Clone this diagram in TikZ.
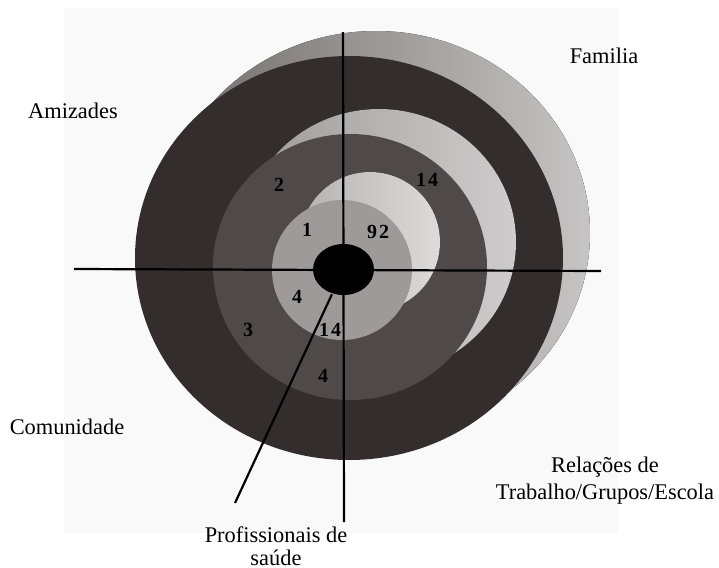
\documentclass[tikz,border=0pt]{standalone}
\usepackage{fontspec}
\setmainfont{Liberation Serif}
\newfontfamily\digitos[LetterSpace=10]{Liberation Serif}
\usetikzlibrary{shapes.geometric}

\definecolor{fundo}{RGB}{249,249,249}
\definecolor{anelescuro}{RGB}{52,45,45}
\definecolor{anelmedio}{RGB}{79,73,73}
\definecolor{anelclaro}{RGB}{158,154,154}
\definecolor{ladoAesq}{RGB}{112,107,107}
\definecolor{ladoAdir}{RGB}{198,196,196}
\definecolor{ladoBesq}{RGB}{158,154,154}
\definecolor{ladoBdir}{RGB}{206,204,204}
\definecolor{ladoCesq}{RGB}{182,178,178}
\definecolor{ladoCdir}{RGB}{220,218,218}

\tikzset{every picture/.style={line width=1.1pt}}
\tikzset{rotulo/.style={font=\fontsize{11.2}{11.5}\selectfont,inner sep=0pt,align=center},
	numero/.style={font=\digitos\fontsize{10}{12}\selectfont\bfseries,inner sep=0pt}}

\begin{document}
\begin{tikzpicture}[x=0.5pt,y=-0.5pt]
			\useasboundingbox (0,0) rectangle (719,568);
			\fill [fundo] (64,8) rectangle (618,533);

			\fill [left color=ladoAesq,right color=ladoAdir] (376,233) ellipse [x radius=214,y radius=202];
			\fill [anelescuro] (349,258) ellipse [x radius=214,y radius=202];
			\fill [left color=ladoBesq,right color=ladoBdir] (379,242) ellipse [x radius=137,y radius=133];
			\fill [anelmedio] (350,267) ellipse [x radius=137,y radius=133];
			\fill [left color=ladoCesq,right color=ladoCdir] (370,242) ellipse [x radius=70,y radius=70];
			\fill [anelclaro] (342,270) ellipse [x radius=70,y radius=70];

			\coordinate (esq) at (74,269);
			\coordinate (dir) at (601,271);
			\coordinate (topo) at (343,32);
			\coordinate (base) at (344,522);
			\coordinate (ponta) at (235,503);
			\draw (esq) -- (dir);
			\draw (topo) -- (base);
			\node [ellipse,fill,inner sep=0pt,minimum width=30.5pt,minimum height=25.5pt](ego) at (343.5,269.5) {};
			\draw (ego.-115) -- (ponta);

			\node [rotulo](familia) at (604,56) {Familia};
			\node [rotulo](amizades) at (73,111) {Amizades};
			\node [rotulo](comunidade) at (67,427) {Comunidade};
			\node [rotulo](trabalho) at (605,481) {Relações de\\[2pt]Trabalho/Grupos/Escola};
			\node [rotulo](saude) at (276,546) {Profissionais de\\saúde};

			\node [numero](n2) at (279,185) {2};
			\node [numero](n14a) at (427,180) {14};
			\node [numero](n1) at (307,230) {1};
			\node [numero](n92) at (378,232) {92};
			\node [numero](n4a) at (297,297) {4};
			\node [numero](n3) at (248,330) {3};
			\node [numero](n14b) at (330,330) {14};
			\node [numero](n4b) at (323,376) {4};
		\end{tikzpicture}
\end{document}
